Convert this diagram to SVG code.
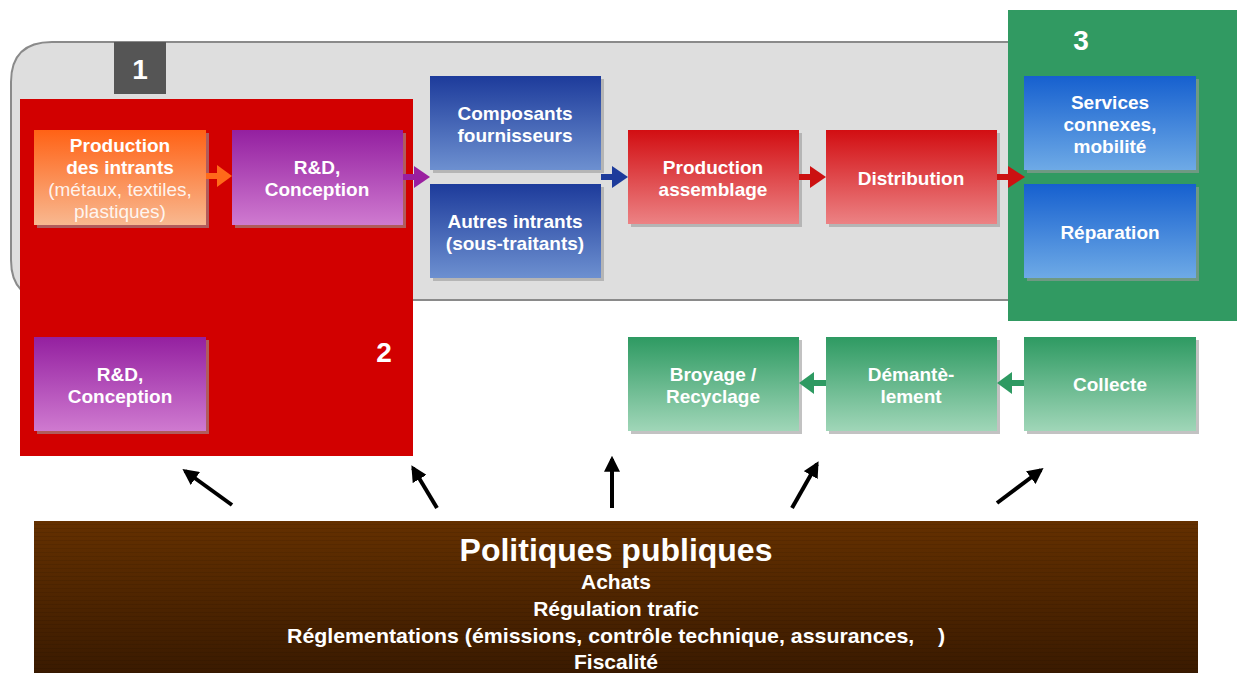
<svg xmlns="http://www.w3.org/2000/svg" width="1238" height="673" viewBox="0 0 1238 673">
<defs>
<linearGradient id="gOr" x1="0" y1="0" x2="0" y2="1"><stop offset="0" stop-color="#ff6215"/><stop offset="1" stop-color="#f8b890"/></linearGradient>
<linearGradient id="gPu" x1="0" y1="0" x2="0" y2="1"><stop offset="0" stop-color="#9420a0"/><stop offset="1" stop-color="#cf7ad0"/></linearGradient>
<linearGradient id="gBl" x1="0" y1="0" x2="0" y2="1"><stop offset="0" stop-color="#1d3b9b"/><stop offset="1" stop-color="#6d90d0"/></linearGradient>
<linearGradient id="gRe" x1="0" y1="0" x2="0" y2="1"><stop offset="0" stop-color="#d20e12"/><stop offset="1" stop-color="#ec8284"/></linearGradient>
<linearGradient id="gSb" x1="0" y1="0" x2="0" y2="1"><stop offset="0" stop-color="#1660cf"/><stop offset="1" stop-color="#6eaae6"/></linearGradient>
<linearGradient id="gGr" x1="0" y1="0" x2="0" y2="1"><stop offset="0" stop-color="#2e9a62"/><stop offset="1" stop-color="#a0d6b8"/></linearGradient>
<linearGradient id="gBr" x1="0" y1="0" x2="0" y2="1"><stop offset="0" stop-color="#643000"/><stop offset="1" stop-color="#3a1a00"/></linearGradient>
<pattern id="stripes" width="4" height="4" patternUnits="userSpaceOnUse"><rect width="4" height="1" fill="#000" fill-opacity="0.08"/></pattern>
<marker id="mk" viewBox="0 0 10 10" refX="8" refY="5" markerWidth="4" markerHeight="4" orient="auto"><path d="M0,0 L10,5 L0,10 z" fill="#000"/></marker>
</defs>
<style>
.t{font-family:"Liberation Sans",Arial,sans-serif;font-weight:bold;fill:#fff;font-size:19px;text-anchor:middle}
.n{font-weight:normal}
.sh{fill:#9a9a9a;opacity:0.6}
.num{font-family:"Liberation Sans",Arial,sans-serif;font-weight:bold;fill:#fff;font-size:28px;text-anchor:middle}
.pp{font-family:"Liberation Sans",Arial,sans-serif;font-weight:bold;fill:#fff;text-anchor:middle}
.blk{stroke:#000;stroke-width:4;fill:none}
</style>

<g id="background">
<path d="M52,42 H1015 V300 H52 Q11,300 11,260 V82 Q11,42 52,42 Z" fill="#dedede" stroke="#8a8a8a" stroke-width="2"/>
</g>

<g id="zone1">
<rect x="114" y="42" width="52" height="52" fill="#555"/>
<text class="num" x="140" y="79">1</text>
</g>

<g id="zone2">
<rect x="20" y="99" width="393" height="357" fill="#d20000"/>
<text class="num" x="384" y="362">2</text>
</g>

<g id="zone3">
<rect x="1008" y="10" width="229" height="311" fill="#319a62"/>
<text class="num" x="1081" y="50">3</text>
</g>

<g id="production-intrants">
<rect class="sh" x="37" y="133" width="172" height="95"/>
<rect x="34" y="130" width="172" height="95" fill="url(#gOr)"/>
<text class="t" x="120" y="152">Production</text>
<text class="t" x="120" y="174">des intrants</text>
<text class="t n" x="120" y="196" fill-opacity="0.9">(métaux, textiles,</text>
<text class="t n" x="120" y="218" fill-opacity="0.9">plastiques)</text>
</g>

<g id="rd-top">
<rect class="sh" x="235" y="133" width="171" height="95"/>
<rect x="232" y="130" width="171" height="95" fill="url(#gPu)"/>
<text class="t" x="317" y="174">R&amp;D,</text>
<text class="t" x="317" y="196">Conception</text>
</g>

<g id="composants">
<rect class="sh" x="433" y="79" width="171" height="94"/>
<rect x="430" y="76" width="171" height="94" fill="url(#gBl)"/>
<text class="t" x="515" y="120">Composants</text>
<text class="t" x="515" y="142">fournisseurs</text>
</g>

<g id="autres-intrants">
<rect class="sh" x="433" y="187" width="171" height="94"/>
<rect x="430" y="184" width="171" height="94" fill="url(#gBl)"/>
<text class="t" x="515" y="228">Autres intrants</text>
<text class="t" x="515" y="250">(sous-traitants)</text>
</g>

<g id="production-assemblage">
<rect class="sh" x="631" y="133" width="171" height="94"/>
<rect x="628" y="130" width="171" height="94" fill="url(#gRe)"/>
<text class="t" x="713" y="174">Production</text>
<text class="t" x="713" y="196">assemblage</text>
</g>

<g id="distribution">
<rect class="sh" x="829" y="133" width="171" height="94"/>
<rect x="826" y="130" width="171" height="94" fill="url(#gRe)"/>
<text class="t" x="911" y="185">Distribution</text>
</g>

<g id="services">
<rect class="sh" x="1027" y="79" width="172" height="94"/>
<rect x="1024" y="76" width="172" height="94" fill="url(#gSb)"/>
<text class="t" x="1110" y="109">Services</text>
<text class="t" x="1110" y="131">connexes,</text>
<text class="t" x="1110" y="153">mobilité</text>
</g>

<g id="reparation">
<rect class="sh" x="1027" y="187" width="172" height="94"/>
<rect x="1024" y="184" width="172" height="94" fill="url(#gSb)"/>
<text class="t" x="1110" y="239">Réparation</text>
</g>

<g id="rd-bottom">
<rect class="sh" x="37" y="340" width="172" height="94"/>
<rect x="34" y="337" width="172" height="94" fill="url(#gPu)"/>
<text class="t" x="120" y="381">R&amp;D,</text>
<text class="t" x="120" y="403">Conception</text>
</g>

<g id="broyage">
<rect class="sh" x="631" y="340" width="171" height="94"/>
<rect x="628" y="337" width="171" height="94" fill="url(#gGr)"/>
<text class="t" x="713" y="381">Broyage /</text>
<text class="t" x="713" y="403">Recyclage</text>
</g>

<g id="demantelement">
<rect class="sh" x="829" y="340" width="171" height="94"/>
<rect x="826" y="337" width="171" height="94" fill="url(#gGr)"/>
<text class="t" x="911" y="381">Démantè-</text>
<text class="t" x="911" y="403">lement</text>
</g>

<g id="collecte">
<rect class="sh" x="1027" y="340" width="172" height="94"/>
<rect x="1024" y="337" width="172" height="94" fill="url(#gGr)"/>
<text class="t" x="1110" y="391">Collecte</text>
</g>

<g id="politiques">
<rect x="34" y="521" width="1164" height="152" fill="url(#gBr)"/>
<rect x="34" y="521" width="1164" height="152" fill="url(#stripes)"/>
<text class="pp" x="616" y="561" font-size="32">Politiques publiques</text>
<text class="pp" x="616" y="589" font-size="21">Achats</text>
<text class="pp" x="616" y="616" font-size="21">Régulation trafic</text>
<text class="pp" x="616" y="643" font-size="21" xml:space="preserve" style="white-space:pre" textLength="658" lengthAdjust="spacingAndGlyphs">Réglementations (émissions, contrôle technique, assurances,    )</text>
<text class="pp" x="616" y="669" font-size="21">Fiscalité</text>
</g>

<g id="connectors">
<rect x="206" y="173" width="13" height="6" fill="#ff6a1a"/><path d="M217,165 L232,176 L217,187 Z" fill="#ff6a1a"/>
<rect x="403" y="174" width="13" height="6" fill="#9a1fa0"/><path d="M414,166 L430,177 L414,188 Z" fill="#9a1fa0"/>
<rect x="601" y="174" width="13" height="6" fill="#1d3b9b"/><path d="M612,166 L628,177 L612,188 Z" fill="#1d3b9b"/>
<rect x="799" y="174" width="13" height="6" fill="#cc1111"/><path d="M810,166 L826,177 L810,188 Z" fill="#cc1111"/>
<rect x="997" y="174" width="13" height="6" fill="#cc1111"/><path d="M1008,166 L1025,177 L1008,188 Z" fill="#cc1111"/>
<rect x="812" y="380" width="14" height="6" fill="#2e9a62"/><path d="M814,372 L799,383 L814,394 Z" fill="#2e9a62"/>
<rect x="1010" y="380" width="14" height="6" fill="#2e9a62"/><path d="M1012,372 L997,383 L1012,394 Z" fill="#2e9a62"/>
<line class="blk" x1="232" y1="505" x2="185" y2="471" marker-end="url(#mk)"/>
<line class="blk" x1="437" y1="508" x2="413" y2="468" marker-end="url(#mk)"/>
<line class="blk" x1="612" y1="508" x2="612" y2="459" marker-end="url(#mk)"/>
<line class="blk" x1="792" y1="508" x2="817" y2="464" marker-end="url(#mk)"/>
<line class="blk" x1="997" y1="503" x2="1041" y2="470" marker-end="url(#mk)"/>
</g>
</svg>
